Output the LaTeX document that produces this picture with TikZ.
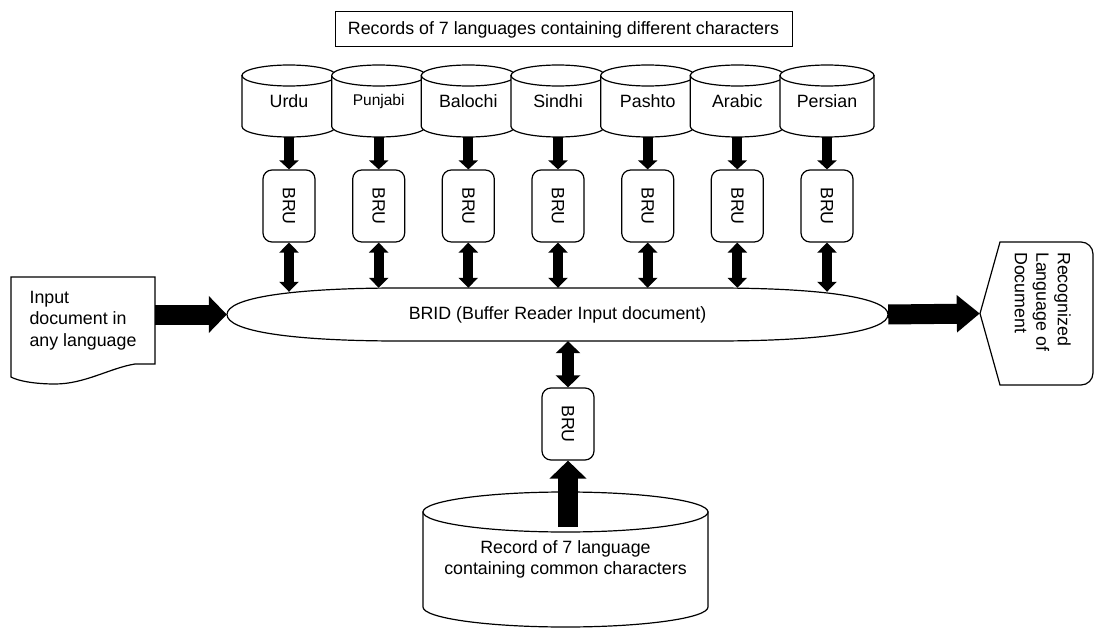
\documentclass[tikz,border=0pt]{standalone}
\usepackage{fontspec}
\setmainfont{Liberation Sans}
\usepackage{graphicx}
\usetikzlibrary{arrows.meta}
\newcommand\drum[7]{%
  \filldraw[shapeline] ({#2-#4},{#3-#5+#6}) -- ({#2-#4},{#3+#5-#6})
     .. controls ({#2-#4},{#3+#5-#6+0.5523*#6}) and ({#2-0.5523*#4},{#3+#5}) .. (#2,{#3+#5})
     .. controls ({#2+0.5523*#4},{#3+#5}) and ({#2+#4},{#3+#5-#6+0.5523*#6}) .. ({#2+#4},{#3+#5-#6})
     -- ({#2+#4},{#3-#5+#6}) -- cycle;
  \filldraw[shapeline] (#2,{#3-#5+#6}) ellipse[x radius=#4,y radius=#6];
  \node[drumtxt,minimum width={2*#4},minimum height={2*#5}] (#1) at (#2,#3) {#7};
}
\begin{document}
\begin{tikzpicture}[x=1pt,y=-1pt,
  every node/.style={font=\fontsize{17.8}{21.5}\selectfont, inner sep=0pt},
  shapeline/.style={draw=black, line width=1.2pt, fill=white},
  drumtxt/.style={rectangle, align=center},
  brubox/.style={draw, line width=1.2pt, fill=white, rounded corners=9pt, minimum width=52pt, minimum height=72pt},
  thinarrow/.style={line width=10pt, -{Triangle[width=19pt,length=9pt]}},
  dblarrow/.style={line width=10pt, {Triangle[width=19pt,length=10pt]}-{Triangle[width=19pt,length=10pt]}},
  bigdbl/.style={line width=12pt, {Triangle[width=24pt,length=12pt]}-{Triangle[width=24pt,length=12pt]}},
  bigarrow/.style={line width=20pt, -{Triangle[width=36pt,length=#1]}},
]
\useasboundingbox (0,0) rectangle (1095,631);

% title
\node[draw, line width=1pt, minimum width=457pt, minimum height=35pt] (title) at (563.5,29.5)
  {Records of 7 languages containing different characters};

% language records
\drum{d1}{289}{101}{47}{36}{10.5}{Urdu}
\drum{d2}{378.7}{101}{47}{36}{10.5}{\fontsize{15.5}{18}\selectfont Punjabi}
\drum{d3}{468.3}{101}{47}{36}{10.5}{Balochi}
\drum{d4}{558}{101}{47}{36}{10.5}{Sindhi}
\drum{d5}{647.7}{101}{47}{36}{10.5}{Pashto}
\drum{d6}{737.3}{101}{47}{36}{10.5}{Arabic}
\drum{d7}{827}{101}{47}{36}{10.5}{Persian}

% BRU boxes
\foreach \i/\x in {1/289,2/378.7,3/468.3,4/558,5/647.7,6/737.3,7/827}{
  \node[brubox] (b\i) at (\x,206) {\rotatebox{-90}{BRU}};
}
\node[brubox] (bb) at (568,424) {\rotatebox{-90}{BRU}};

% BRID
\draw[shapeline] (227,314.5) .. controls (227,298) and (290,288) .. (400,288)
  -- (715,288) .. controls (825,288) and (888,298) .. (888,314.5)
  .. controls (888,331) and (825,341) .. (715,341)
  -- (400,341) .. controls (290,341) and (227,331) .. (227,314.5) -- cycle;
\node[minimum width=661pt, minimum height=53pt] (brid) at (557.5,314.5)
  {BRID (Buffer Reader Input document)};

% input document
\draw[shapeline] (11,277) -- (155,277) -- (155,364) -- (135,364)
  .. controls (110,368) and (85,384) .. (55,384)
  .. controls (35,384) and (18,381) .. (11,377) -- cycle;
\node[minimum width=144pt, minimum height=87pt, align=left] (doc) at (83,320.5)
  {Input\\document in\\any language};

% output
\draw[shapeline] (980,313.5) -- (1000,242) [rounded corners=12pt] -- (1093,242) -- (1093,385)
  [sharp corners] -- (1000,385) -- cycle;
\node[minimum width=113pt, minimum height=143pt] (out) at (1036.5,313.5) {};
\node[anchor=north west, rotate=-90, align=left] (outtxt) at (1071,252)
  {Recognized\\Language of\\Document};

% common record
\drum{dc}{565.5}{559.5}{142.5}{67.5}{20}{Record of 7 language\\containing common characters}
\coordinate (bstart) at (568,527);

% connectors
\foreach \i in {1,...,7}{
  \draw[thinarrow] (d\i.south) -- (b\i.north);
}
\foreach \i in {2,...,6}{
  \draw[dblarrow] (b\i.south) -- (b\i.south |- brid.north);
}
\draw[dblarrow, shorten >=-4pt] (b1.south) -- (b1.south |- brid.north);
\draw[dblarrow, shorten >=-4pt] (b7.south) -- (b7.south |- brid.north);
\draw[bigdbl] (bb.north |- brid.south) -- (bb.north);
\draw[bigarrow=18pt] (bstart) -- (bb.south);
\draw[bigarrow=18pt] (doc.east |- brid.west) -- (brid.west);
\draw[bigarrow=23pt] (brid.east) -- (out.west);
\end{tikzpicture}
\end{document}
